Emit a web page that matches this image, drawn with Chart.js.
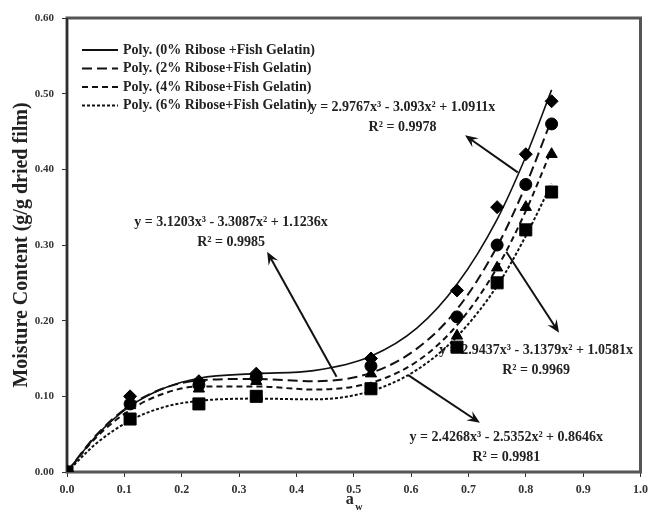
<!DOCTYPE html>
<html>
<head>
<meta charset="utf-8">
<script src="https://cdn.jsdelivr.net/npm/chart.js@4.4.0/dist/chart.umd.min.js"></script>
<style>
  html, body { margin: 0; padding: 0; background: #fff; }
</style>
</head>
<body>
<canvas id="chart" width="654" height="514"></canvas>
<script>
// water activity of the measured points
const awPoints = [0, 0.11, 0.23, 0.33, 0.53, 0.68, 0.75, 0.80, 0.845];
// moisture content (g/g dried film)
const mc0 = [0, 0.100, 0.120, 0.130, 0.150, 0.240, 0.350, 0.420, 0.490];
const mc2 = [0, 0.090, 0.115, 0.125, 0.140, 0.205, 0.300, 0.380, 0.460];
const mc4 = [0, 0.088, 0.110, 0.120, 0.130, 0.180, 0.270, 0.350, 0.420];
const mc6 = [0, 0.070, 0.090, 0.100, 0.110, 0.165, 0.250, 0.320, 0.370];

// poly trend lines
const awFit = [0, 0.05, 0.11, 0.17, 0.23, 0.33, 0.43, 0.53, 0.61, 0.68, 0.75, 0.80, 0.845];
const fit0 = [0, 0.047, 0.087, 0.111, 0.124, 0.130, 0.134, 0.153, 0.190, 0.248, 0.334, 0.417, 0.505];
const fit2 = [0, 0.048, 0.088, 0.111, 0.121, 0.123, 0.120, 0.131, 0.163, 0.215, 0.298, 0.379, 0.466];
const fit4 = [0, 0.045, 0.082, 0.104, 0.113, 0.113, 0.109, 0.118, 0.146, 0.194, 0.270, 0.345, 0.426];
const fit6 = [0, 0.037, 0.068, 0.086, 0.094, 0.097, 0.096, 0.107, 0.135, 0.179, 0.246, 0.312, 0.381];

const seriesNames = [
  'Poly. (0% Ribose +Fish Gelatin)',
  'Poly. (2% Ribose+Fish Gelatin)',
  'Poly. (4% Ribose+Fish Gelatin)',
  'Poly. (6% Ribose+Fish Gelatin)'
];
const equations = [
  'y = 2.9767x\u00b3 - 3.093x\u00b2 + 1.0911x',
  'y = 3.1203x\u00b3 - 3.3087x\u00b2 + 1.1236x',
  'y = 2.9437x\u00b3 - 3.1379x\u00b2 + 1.0581x',
  'y = 2.4268x\u00b3 - 2.5352x\u00b2 + 0.8646x'
];
const rSquared = ['R\u00b2 = 0.9978', 'R\u00b2 = 0.9985', 'R\u00b2 = 0.9969', 'R\u00b2 = 0.9981'];
const yTicks = [0, 0.1, 0.2, 0.3, 0.4, 0.5, 0.6];

const dashes = [[], [10, 5], [6, 4], [3, 2]];
const markers = [
  { style: 'rectRot', r: 6.5 },
  { style: 'circle', r: 6 },
  { style: 'triangle', r: 6.5 },
  { style: 'rect', r: 8.5 }
];
const SERIF = '"Liberation Serif", "Times New Roman", serif';

function pts(xs, ys) { return xs.map((x, i) => ({ x: x, y: ys[i] })); }

const fits = [fit0, fit2, fit4, fit6];
const measured = [mc0, mc2, mc4, mc6];
const datasets = [];
fits.forEach((f, i) => {
  datasets.push({
    label: seriesNames[i],
    data: pts(awFit, f),
    showLine: true,
    borderColor: '#111',
    borderWidth: i === 0 ? 1.6 : 2,
    borderDash: dashes[i],
    pointRadius: 0,
    cubicInterpolationMode: 'monotone',
    order: 2
  });
});
measured.forEach((m, i) => {
  datasets.push({
    label: 'pts' + i,
    data: pts(awPoints, m),
    showLine: false,
    pointStyle: markers[i].style,
    pointRadius: markers[i].r,
    backgroundColor: '#000',
    borderColor: '#000',
    borderWidth: 1,
    order: 1
  });
});

// equation labels and arrows, in data units
const eqPos = [[0.585, 0.482], [0.286, 0.330], [0.818, 0.161], [0.766, 0.046]];
const arrows = [
  [[0.786, 0.396], [0.694, 0.445]],
  [[0.470, 0.126], [0.349, 0.291]],
  [[0.766, 0.291], [0.858, 0.184]],
  [[0.595, 0.128], [0.720, 0.065]]
];

const decor = {
  id: 'decor',
  beforeDatasetsDraw(chart) {
    const { ctx, chartArea: a, scales: { x, y } } = chart;
    ctx.save();
    // frame
    ctx.strokeStyle = '#555';
    ctx.lineWidth = 3;
    ctx.strokeRect(a.left, a.top, a.right - a.left, a.bottom - a.top);
    ctx.strokeStyle = '#222';
    ctx.lineWidth = 1.5;
    ctx.beginPath();
    ctx.moveTo(a.left, a.top);
    ctx.lineTo(a.left, a.bottom);
    ctx.stroke();

    // arrows
    ctx.strokeStyle = '#111';
    ctx.fillStyle = '#111';
    ctx.lineWidth = 2;
    arrows.forEach(([t, h]) => {
      const x1 = x.getPixelForValue(t[0]), y1 = y.getPixelForValue(t[1]);
      const x2 = x.getPixelForValue(h[0]), y2 = y.getPixelForValue(h[1]);
      const ang = Math.atan2(y2 - y1, x2 - x1);
      ctx.beginPath();
      ctx.moveTo(x1, y1);
      ctx.lineTo(x2 - 6 * Math.cos(ang), y2 - 6 * Math.sin(ang));
      ctx.stroke();
      ctx.beginPath();
      ctx.moveTo(x2, y2);
      ctx.lineTo(x2 - 14 * Math.cos(ang - 0.4), y2 - 14 * Math.sin(ang - 0.4));
      ctx.lineTo(x2 - 8 * Math.cos(ang), y2 - 8 * Math.sin(ang));
      ctx.lineTo(x2 - 14 * Math.cos(ang + 0.4), y2 - 14 * Math.sin(ang + 0.4));
      ctx.closePath();
      ctx.fill();
    });

    // equations
    ctx.fillStyle = '#222';
    ctx.font = 'bold 14px ' + SERIF;
    ctx.textAlign = 'center';
    ctx.textBaseline = 'middle';
    eqPos.forEach((p, i) => {
      const px = x.getPixelForValue(p[0]), py = y.getPixelForValue(p[1]);
      ctx.fillText(equations[i], px, py);
      ctx.fillText(rSquared[i], px, py + 20);
    });

    // legend
    ctx.textAlign = 'left';
    ctx.font = 'bold 14px ' + SERIF;
    seriesNames.forEach((n, i) => {
      const ly = a.top + 32 + i * 18.5;
      ctx.strokeStyle = '#111';
      ctx.lineWidth = 2;
      ctx.setLineDash(dashes[i]);
      ctx.beginPath();
      ctx.moveTo(a.left + 15, ly);
      ctx.lineTo(a.left + 51, ly);
      ctx.stroke();
      ctx.setLineDash([]);
      ctx.fillText(n, a.left + 56, ly);
    });

    // x axis title a_w
    const cx = x.getPixelForValue(0.5) - 4;
    ctx.font = 'bold 16px ' + SERIF;
    ctx.textAlign = 'center';
    ctx.fillText('a', cx, 500);
    ctx.font = 'bold 10px ' + SERIF;
    ctx.fillText('w', cx + 9, 507);
    ctx.restore();
  }
};

new Chart(document.getElementById('chart'), {
  type: 'scatter',
  data: { datasets: datasets },
  options: {
    responsive: false,
    animation: false,
    layout: { padding: { top: 18, right: 11, left: 0, bottom: 0 } },
    plugins: {
      legend: { display: false },
      tooltip: { enabled: false }
    },
    scales: {
      x: {
        type: 'linear',
        min: 0,
        max: 1,
        afterFit: s => { s.height = 42; },
        ticks: {
          stepSize: 0.1,
          padding: 6,
          color: '#333',
          font: { family: SERIF, size: 12, weight: 'bold' },
          callback: v => v.toFixed(1)
        },
        grid: { drawOnChartArea: false, tickLength: 5, color: '#333' },
        border: { display: false }
      },
      y: {
        type: 'linear',
        min: 0,
        max: 0.6,
        afterFit: s => { s.width = 67; },
        afterBuildTicks: s => { s.ticks = yTicks.map(v => ({ value: v })); },
        ticks: {
          padding: 8,
          color: '#333',
          font: { family: SERIF, size: 11, weight: 'bold' },
          callback: v => v.toFixed(2)
        },
        grid: { drawOnChartArea: false, tickLength: 5, color: '#333' },
        border: { display: false },
        title: {
          display: true,
          text: 'Moisture Content (g/g dried film)',
          color: '#222',
          font: { family: SERIF, size: 20, weight: 'bold' },
          padding: { top: 10, bottom: 0 }
        }
      }
    }
  },
  plugins: [decor]
});
</script>
</body>
</html>
